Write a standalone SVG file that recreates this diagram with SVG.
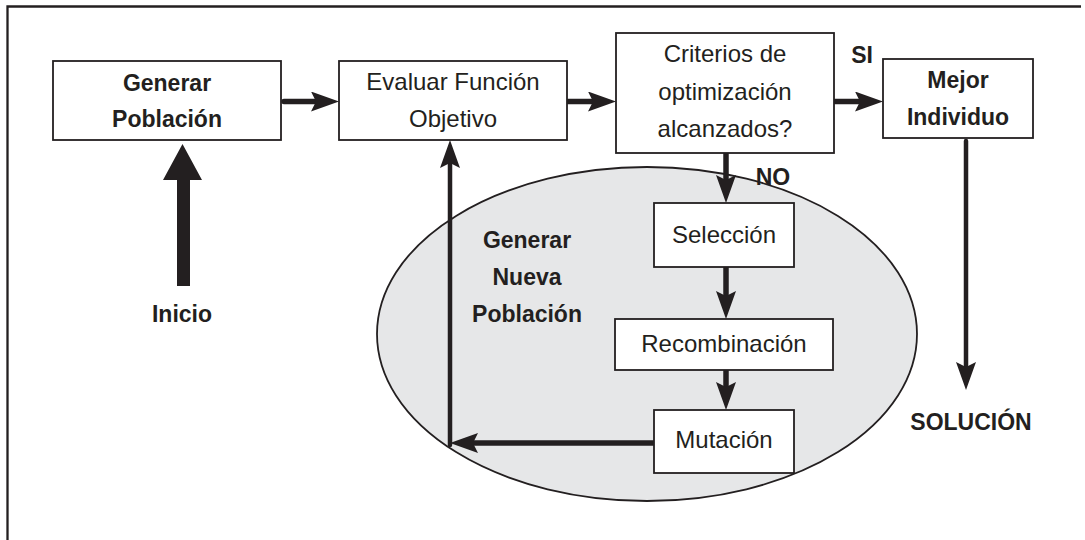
<svg xmlns="http://www.w3.org/2000/svg" width="1085" height="540" viewBox="0 0 1085 540">
<style>
.box{fill:#fff;stroke:#231f20;stroke-width:1.8}
.t{font-family:"Liberation Sans",Arial,sans-serif;font-size:24px;fill:#231f20;text-anchor:middle}
.b{font-family:"Liberation Sans",Arial,sans-serif;font-size:23px;font-weight:bold;fill:#231f20;text-anchor:middle}
.c{fill:none;stroke:#231f20;stroke-linecap:round}
.thick{stroke-width:5.5}
.thin{stroke-width:4.5}
</style>
<defs>
<marker id="ah" viewBox="0 0 28 20" refX="8" refY="10" markerWidth="28" markerHeight="20" markerUnits="userSpaceOnUse" orient="auto">
<path d="M0,0 L28,10 L0,20 L5,10 z" fill="#231f20"/>
</marker>
</defs>
<rect width="1085" height="540" fill="#fff"/>
<path d="M7.5,540 V6.5 H1081" fill="none" stroke="#231f20" stroke-width="2.3"/>
<g id="ellipse-nueva-poblacion">
<ellipse cx="647" cy="334" rx="270" ry="167" fill="#e6e7e8" stroke="#231f20" stroke-width="1.8"/>
<text class="b" x="527" y="248">Generar</text>
<text class="b" x="527" y="285">Nueva</text>
<text class="b" x="527" y="322">Población</text>
</g>
<g id="connectors">
<path class="c thick" d="M284,101.5 H319" marker-end="url(#ah)"/>
<path class="c thick" d="M568,101.5 H596" marker-end="url(#ah)"/>
<path class="c thick" d="M835,101.5 H863" marker-end="url(#ah)"/>
<path class="c thick" d="M726,154 V183" marker-end="url(#ah)"/>
<path class="c thick" d="M726,268 V299" marker-end="url(#ah)"/>
<path class="c thick" d="M726,371 V390" marker-end="url(#ah)"/>
<path class="c thick" d="M654,443 H470" marker-end="url(#ah)"/>
<path class="c thin" d="M450,445 V160" marker-end="url(#ah)"/>
<path class="c thin" d="M966,141 V370" marker-end="url(#ah)"/>
<polygon points="182.5,144 202,180 190,180 190,286 177,286 177,180 163,180" fill="#231f20"/>
<text class="b" x="862" y="63">SI</text>
<text class="b" x="773" y="185">NO</text>
</g>
<g id="generar-poblacion">
<rect class="box" x="53" y="61" width="228" height="79"/>
<text class="b" x="167" y="91">Generar</text>
<text class="b" x="167" y="127">Población</text>
</g>
<g id="evaluar">
<rect class="box" x="339" y="61" width="228" height="79"/>
<text class="t" x="453" y="90">Evaluar Función</text>
<text class="t" x="453" y="127">Objetivo</text>
</g>
<g id="criterios">
<rect class="box" x="616" y="33" width="218" height="120"/>
<text class="t" x="725" y="62">Criterios de</text>
<text class="t" x="725" y="100">optimización</text>
<text class="t" x="725" y="137">alcanzados?</text>
</g>
<g id="mejor-individuo">
<rect class="box" x="883" y="59" width="150" height="79"/>
<text class="b" x="958" y="88">Mejor</text>
<text class="b" x="958" y="125">Individuo</text>
</g>
<g id="seleccion">
<rect class="box" x="654" y="203" width="140" height="64"/>
<text class="t" x="724" y="243">Selección</text>
</g>
<g id="recombinacion">
<rect class="box" x="615" y="319" width="218" height="51"/>
<text class="t" x="724" y="352">Recombinación</text>
</g>
<g id="mutacion">
<rect class="box" x="654" y="410" width="140" height="63"/>
<text class="t" x="724" y="448">Mutación</text>
</g>
<g id="inicio">
<text class="b" x="182" y="322">Inicio</text>
</g>
<g id="solucion">
<text class="b" x="971" y="430">SOLUCIÓN</text>
</g>
</svg>
